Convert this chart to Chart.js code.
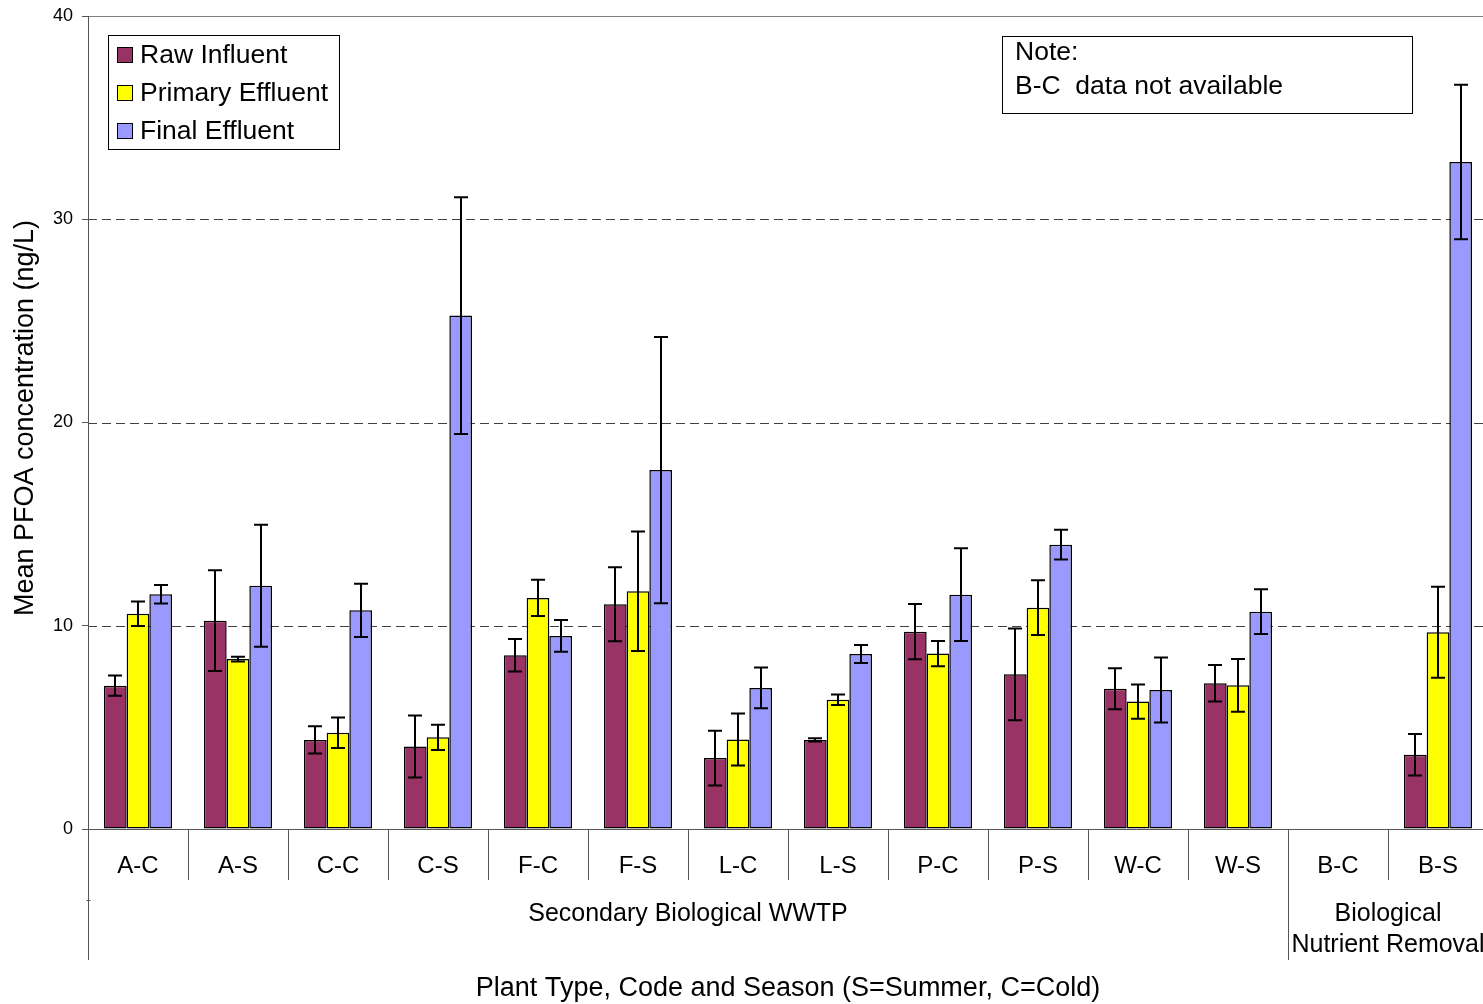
<!DOCTYPE html>
<html>
<head>
<meta charset="utf-8">
<title>Mean PFOA concentration</title>
<script src="https://cdn.jsdelivr.net/npm/chart.js@4"></script>
<style>
  html, body { margin: 0; padding: 0; background: #fff; overflow: hidden; }
  #wrap { width: 1488px; height: 1004px; }
</style>
</head>
<body>
<div id="wrap"><canvas id="pfoaChart" width="1488" height="1004"></canvas></div>
<script>
// categories and values (ng/L)
const categories = ['A-C', 'A-S', 'C-C', 'C-S', 'F-C', 'F-S', 'L-C', 'L-S', 'P-C', 'P-S', 'W-C', 'W-S', 'B-C', 'B-S'];
const rawInfluent = [7.05, 10.25, 4.38, 4.06, 8.55, 11.06, 3.49, 4.38, 9.71, 7.61, 6.90, 7.17, null, 3.65];
const rawErr = [0.50, 2.48, 0.67, 1.53, 0.80, 1.82, 1.35, 0.08, 1.36, 2.26, 1.01, 0.90, null, 1.02];
const primaryEffluent = [10.59, 8.36, 4.74, 4.51, 11.37, 11.70, 4.40, 6.36, 8.63, 10.89, 6.27, 7.07, null, 9.68];
const primaryErr = [0.60, 0.12, 0.75, 0.62, 0.89, 2.94, 1.28, 0.26, 0.62, 1.35, 0.84, 1.30, null, 2.24];
const finalEffluent = [11.55, 11.97, 10.76, 25.26, 9.50, 17.66, 6.94, 8.61, 11.53, 13.99, 6.84, 10.69, null, 32.82];
const finalErr = [0.46, 3.00, 1.31, 5.82, 0.78, 6.55, 1.00, 0.44, 2.28, 0.73, 1.60, 1.10, null, 3.80];
const yTicks = [0, 10, 20, 30, 40];

// plant type groups (first and last category index)
const groupNames = [['Secondary Biological WWTP'], ['Biological', 'Nutrient Removal']];
const groupStart = [0, 12];
const groupEnd = [11, 13];

const seriesNames = ['Raw Influent', 'Primary Effluent', 'Final Effluent'];
const seriesColors = ['#993366', '#FFFF00', '#9999FF'];
const errors = [rawErr, primaryErr, finalErr];

const FONT = "'Liberation Sans', Arial, sans-serif";

const decorations = {
  id: 'decorations',
  beforeDatasetsDraw(chart) {
    const { ctx, chartArea: a, scales: { y } } = chart;
    ctx.save();
    // dashed grid lines
    ctx.strokeStyle = '#404040';
    ctx.lineWidth = 1;
    ctx.setLineDash([9, 5]);
    yTicks.slice(1, -1).forEach(v => {
      const py = Math.round(y.getPixelForValue(v)) + 0.5;
      ctx.beginPath();
      ctx.moveTo(a.left, py);
      ctx.lineTo(a.right, py);
      ctx.stroke();
    });
    ctx.setLineDash([]);
    // top border at 40
    ctx.strokeStyle = '#808080';
    const top = Math.round(y.getPixelForValue(40)) + 0.5;
    ctx.beginPath();
    ctx.moveTo(a.left, top);
    ctx.lineTo(a.right, top);
    ctx.stroke();
    ctx.restore();
  },
  afterDatasetsDraw(chart) {
    const { ctx, chartArea: a, scales: { x, y } } = chart;
    ctx.save();

    // error bars
    ctx.strokeStyle = '#000';
    ctx.lineWidth = 2;
    chart.data.datasets.forEach((ds, i) => {
      const meta = chart.getDatasetMeta(i);
      meta.data.forEach((bar, j) => {
        const v = ds.data[j];
        const e = errors[i][j];
        if (v == null || e == null) return;
        const px = Math.round(bar.x);
        const hi = y.getPixelForValue(v + e);
        const lo = y.getPixelForValue(v - e);
        ctx.beginPath();
        ctx.moveTo(px, hi); ctx.lineTo(px, lo);
        ctx.moveTo(px - 7, hi); ctx.lineTo(px + 7, hi);
        ctx.moveTo(px - 7, lo); ctx.lineTo(px + 7, lo);
        ctx.stroke();
      });
    });

    // axes
    const base = Math.round(y.getPixelForValue(0)) + 0.5;
    const left = Math.round(a.left) + 0.5;
    ctx.lineWidth = 1;
    ctx.strokeStyle = '#555';
    ctx.beginPath();
    ctx.moveTo(left, a.top);
    ctx.lineTo(left, 960);
    ctx.moveTo(a.left - 6, base);
    ctx.lineTo(a.right, base);
    ctx.moveTo(left - 2, 900.5);
    ctx.lineTo(left + 2, 900.5);
    ctx.stroke();

    // category separators and labels
    const step = (a.right - a.left) / categories.length;
    ctx.beginPath();
    for (let k = 1; k < categories.length; k++) {
      const sx = Math.round(a.left + k * step) + 0.5;
      const isGroupEdge = groupStart.includes(k);
      ctx.moveTo(sx, base);
      ctx.lineTo(sx, isGroupEdge ? 960 : 880);
    }
    ctx.stroke();

    ctx.fillStyle = '#000';
    ctx.textAlign = 'center';
    ctx.textBaseline = 'middle';
    ctx.font = '24px ' + FONT;
    categories.forEach((c, k) => {
      ctx.fillText(c, x.getPixelForValue(k), 866);
    });

    // group labels
    ctx.font = '25px ' + FONT;
    groupNames.forEach((lines, g) => {
      const cx = (x.getPixelForValue(groupStart[g]) + x.getPixelForValue(groupEnd[g])) / 2;
      lines.forEach((t, li) => ctx.fillText(t, cx, 914 + li * 31));
    });

    // axis titles
    ctx.font = '27px ' + FONT;
    ctx.fillText('Plant Type, Code and Season (S=Summer, C=Cold)', (a.left + a.right) / 2, 989);
    ctx.save();
    ctx.translate(26, 418);
    ctx.rotate(-Math.PI / 2);
    ctx.fillText('Mean PFOA concentration (ng/L)', 0, 0);
    ctx.restore();

    // legend box
    ctx.font = '26.5px ' + FONT;
    ctx.fillStyle = '#fff';
    ctx.fillRect(108, 35, 231, 114);
    ctx.strokeStyle = '#000';
    ctx.strokeRect(108.5, 35.5, 231, 114);
    ctx.textAlign = 'left';
    seriesNames.forEach((name, i) => {
      const cy = 55 + i * 38;
      ctx.fillStyle = seriesColors[i];
      ctx.fillRect(117, cy - 8, 15, 15);
      ctx.strokeRect(117.5, cy - 7.5, 15, 15);
      ctx.fillStyle = '#000';
      ctx.fillText(name, 140, cy + 1);
    });

    // note box
    ctx.fillStyle = '#fff';
    ctx.fillRect(1002, 36, 410, 77);
    ctx.strokeRect(1002.5, 36.5, 410, 77);
    ctx.fillStyle = '#000';
    ctx.fillText('Note:', 1015, 53);
    ctx.fillText('B-C  data not available', 1015, 87);

    ctx.restore();
  }
};

const ctx = document.getElementById('pfoaChart').getContext('2d');
new Chart(ctx, {
  type: 'bar',
  data: {
    labels: categories,
    datasets: [rawInfluent, primaryEffluent, finalEffluent].map((d, i) => ({
      label: seriesNames[i],
      data: d,
      backgroundColor: seriesColors[i],
      borderColor: '#000',
      borderWidth: 1.5,
      borderSkipped: false,
      categoryPercentage: 0.68,
      barPercentage: 1.0,
    })),
  },
  options: {
    responsive: false,
    animation: false,
    devicePixelRatio: 1,
    layout: { padding: { top: 16, right: 0, bottom: 175, left: 0 } },
    plugins: {
      legend: { display: false },
      tooltip: { enabled: false },
    },
    scales: {
      x: {
        display: false,
        offset: true,
      },
      y: {
        min: 0,
        max: 40,
        afterBuildTicks: scale => { scale.ticks = yTicks.map(v => ({ value: v })); },
        afterFit: scale => {
          scale.width = 88;
          scale.paddingTop = 0;
          scale.paddingBottom = 0;
        },
        ticks: {
          color: '#000',
          font: { family: FONT, size: 18 },
          padding: 9,
        },
        grid: {
          drawOnChartArea: false,
          drawTicks: true,
          tickLength: 6,
          color: '#555',
        },
        border: { display: false },
      },
    },
  },
  plugins: [decorations],
});
</script>
</body>
</html>
